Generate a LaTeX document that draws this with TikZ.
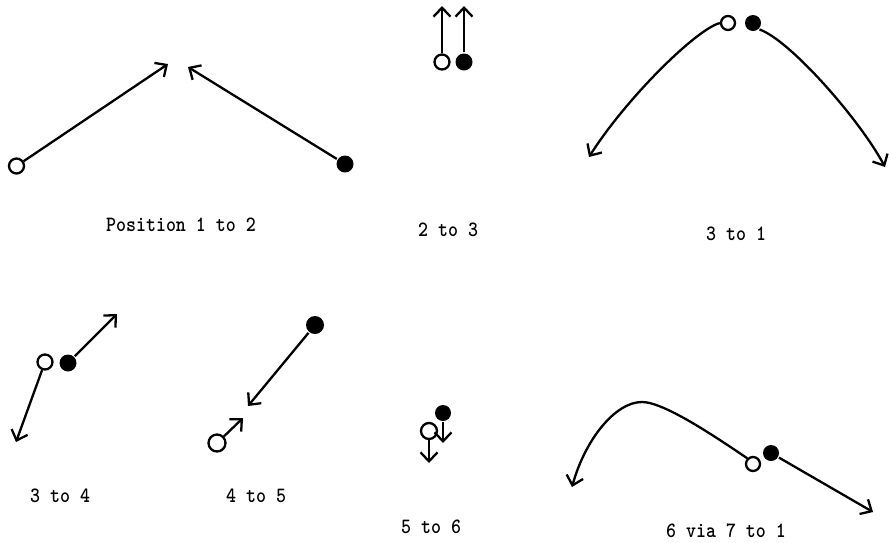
\documentclass[tikz,border=0pt]{standalone}
\usetikzlibrary{arrows.meta}
\begin{document}
\begin{tikzpicture}[x=1pt,y=-1pt,
  line width=2.3pt,
  tip/.style={-{Straight Barb[length=9pt,width=17pt,line width=2.3pt]}},
  opendot/.style={circle,draw,fill=white,inner sep=0pt,line width=2.3pt,minimum size=#1},
  opendot/.default=15pt,
  fulldot/.style={circle,fill=black,inner sep=0pt,minimum size=#1},
  fulldot/.default=17pt,
  lab/.style={font=\ttfamily\bfseries\fontsize{19}{22}\selectfont,anchor=base west,inner sep=0pt,yscale=1.15}]
\useasboundingbox[fill=white] (0,0) rectangle (889,542);

% panel 1: Position 1 to 2
\node[opendot] (o1) at (16.5,166) {};
\node[fulldot] (f1) at (345,164) {};
\coordinate (t1a) at (168,64);
\coordinate (t1b) at (188,67);
\draw[tip] (o1) -- (t1a);
\draw[tip] (f1) -- (t1b);
\node[lab] (l1) at (105,231.5) {Position 1 to 2};

% panel 2: 2 to 3
\node[opendot] (o2) at (442,62) {};
\node[fulldot] (f2) at (464,62) {};
\coordinate (t2a) at (442,6);
\coordinate (t2b) at (464,6);
\draw[tip] (o2) -- (t2a);
\draw[tip] (f2) -- (t2b);
\node[lab] (l2) at (417,236) {2 to 3};

% panel 3: 3 to 1
\node[opendot=14pt] (o3) at (728,23) {};
\node[fulldot=16pt] (f3) at (753,23) {};
\coordinate (t3a) at (589,157);
\coordinate (t3b) at (885,167);
\draw[tip] (o3.west) .. controls (695,30) and (625,100) .. (t3a);
\draw[tip] (f3.south east) .. controls (790,40) and (860,120) .. (t3b);
\node[lab] (l3) at (705,240) {3 to 1};

% panel 4: 3 to 4
\node[opendot] (o4) at (45,362) {};
\node[fulldot] (f4) at (68,363) {};
\coordinate (t4a) at (117,314);
\coordinate (t4b) at (16,442);
\draw[tip] (f4) -- (t4a);
\draw[tip] (o4) -- (t4b);
\node[lab] (l4) at (29,502) {3 to 4};

% panel 5: 4 to 5
\node[fulldot=18pt] (f5) at (315,325) {};
\node[opendot=17pt] (o5) at (217,443) {};
\coordinate (t5a) at (248,406);
\coordinate (t5b) at (243,418);
\draw[tip] (f5) -- (t5a);
\draw[tip] (o5) -- (t5b);
\node[lab] (l5) at (225,502) {4 to 5};

% panel 6: 5 to 6
\node[fulldot=16pt] (f6) at (443,413) {};
\node[opendot=16pt] (o6) at (429,431) {};
\coordinate (t6a) at (443,443);
\coordinate (t6b) at (429,463);
\draw[tip] (f6) -- (t6a);
\draw[tip] (o6) -- (t6b);
\node[lab] (l6) at (400,533) {5 to 6};

% panel 7: 6 via 7 to 1
\node[opendot=14pt] (o7) at (753,464) {};
\node[fulldot=16pt] (f7) at (771,453) {};
\coordinate (pk) at (642,402);
\coordinate (t7a) at (572,487);
\coordinate (t7b) at (873,512);
\draw[tip] (o7.north west) .. controls (720,440) and (665,402) .. (pk)
   .. controls (615,402) and (585,440) .. (t7a);
\draw[tip] (f7) -- (t7b);
\node[lab] (l7) at (665,537) {6 via 7 to 1};
\end{tikzpicture}
\end{document}
